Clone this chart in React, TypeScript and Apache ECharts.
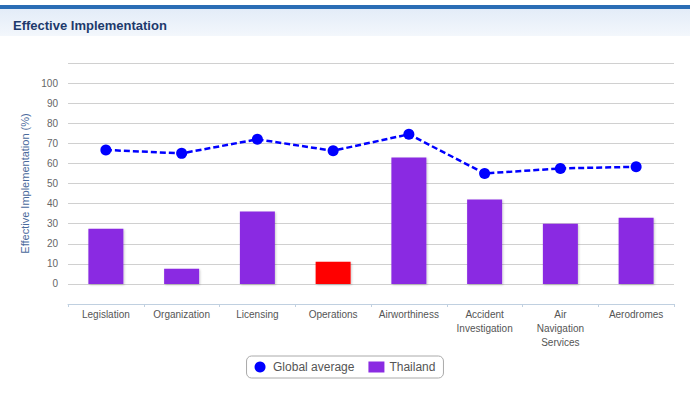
import React, { useEffect, useRef } from "react";
import * as echarts from "echarts";

const categories = [
  "Legislation",
  "Organization",
  "Licensing",
  "Operations",
  "Airworthiness",
  "Accident\nInvestigation",
  "Air\nNavigation\nServices",
  "Aerodromes",
];
const thailandValues = [27.5, 7.5, 36, 11, 63, 42, 30, 33];
const globalAverage = [66.7, 65, 72, 66.3, 74.5, 55, 57.5, 58.3];
const highlightIndex = 3;
const yTicks = [0, 10, 20, 30, 40, 50, 60, 70, 80, 90, 100];

export default function App() {
  const ref = useRef<HTMLDivElement>(null);
  useEffect(() => {
    if (!ref.current) return;
    const chart = echarts.init(ref.current, null, { renderer: "svg" });
    const font = "'Liberation Sans', Arial, sans-serif";
    chart.setOption({
      animation: false,
      textStyle: { fontFamily: font },
      title: {
        text: "Effective Implementation",
        left: 8,
        top: 14,
        textStyle: { fontSize: 13, fontWeight: "bold", color: "#1d3a6c", fontFamily: font },
      },
      graphic: [
        {
          type: "rect",
          shape: { x: 0, y: 9, width: 690, height: 27 },
          style: {
            fill: new echarts.graphic.LinearGradient(0, 0, 0, 1, [
              { offset: 0, color: "#e3ecf8" },
              { offset: 1, color: "#f3f7fc" },
            ]),
          },
          z: -10,
        },
        {
          type: "rect",
          shape: { x: 0, y: 5, width: 690, height: 4 },
          style: { fill: "#2a6db5" },
          z: -5,
        },
      ],
      legend: {
        bottom: 25,
        left: "center",
        data: [
          { name: "Global average", icon: "circle" },
          { name: "Thailand", icon: "rect" },
        ],
        itemWidth: 16,
        itemHeight: 11,
        itemGap: 14,
        borderColor: "#aaaaaa",
        borderWidth: 1,
        borderRadius: 5,
        padding: [5, 8],
        textStyle: { fontSize: 12, color: "#555", fontFamily: font },
      },
      grid: { left: 68, right: 16, top: 63, bottom: 99 },
      xAxis: {
        type: "category",
        data: categories,
        boundaryGap: true,
        axisLine: { onZero: false, lineStyle: { color: "#c0d0e0", width: 1 } },
        axisTick: { show: true, lineStyle: { color: "#c0d0e0" }, length: 3 },
        axisLabel: { color: "#555", fontSize: 10, lineHeight: 14, interval: 0, margin: 3, fontFamily: font },
      },
      yAxis: {
        type: "value",
        min: -10,
        max: 110,
        interval: 10,
        name: "Effective Implementation (%)",
        nameLocation: "middle",
        nameGap: 36,
        nameTextStyle: { color: "#4a6a9c", fontSize: 11, fontFamily: font },
        axisLine: { show: false },
        axisTick: { show: false },
        axisLabel: {
          color: "#666",
          fontSize: 10,
          margin: 10,
          fontFamily: font,
          formatter: (v: number) => (yTicks.indexOf(v) >= 0 ? String(v) : ""),
        },
        splitLine: { lineStyle: { color: "#d0d0d0", width: 1 } },
      },
      series: [
        {
          name: "Thailand",
          type: "bar",
          data: thailandValues.map((v, i) =>
            i === highlightIndex ? { value: v, itemStyle: { color: "#ff0000" } } : v
          ),
          barWidth: 35,
          itemStyle: {
            color: "#8a2be2",
            shadowColor: "rgba(0,0,0,0.2)",
            shadowBlur: 2,
            shadowOffsetX: 1,
            shadowOffsetY: 1,
          },
          z: 2,
        },
        {
          name: "Global average",
          type: "line",
          data: globalAverage,
          symbol: "circle",
          symbolSize: 11,
          lineStyle: { color: "#0000ff", width: 2.5, type: [6, 3] },
          itemStyle: { color: "#0000ff" },
          z: 3,
        },
      ],
    });
    return () => chart.dispose();
  }, []);
  return (
    <div
      ref={ref}
      style={{ position: "fixed", left: 0, top: 0, width: 690, height: 403, background: "#fff" }}
    />
  );
}
